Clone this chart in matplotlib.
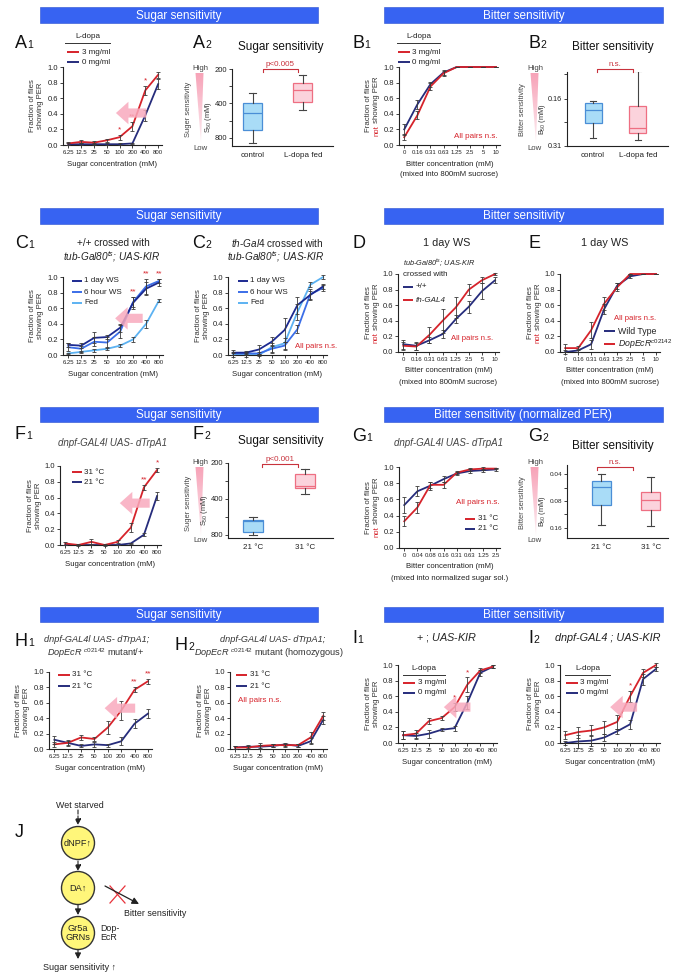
import matplotlib
matplotlib.use("Agg")
import matplotlib.pyplot as plt
import numpy as np
from matplotlib.patches import Rectangle, Polygon, Circle
from matplotlib.ticker import FixedLocator, FixedFormatter, NullFormatter
from matplotlib.colors import LinearSegmentedColormap

plt.rcParams['font.family'] = ['Liberation Sans', 'DejaVu Sans']
plt.rcParams['mathtext.fontset'] = 'custom'
plt.rcParams['mathtext.rm'] = 'Liberation Sans'
plt.rcParams['mathtext.it'] = 'Liberation Sans:italic'
plt.rcParams['mathtext.bf'] = 'Liberation Sans:bold'

# ---------------- data ----------------
sugar_conc = ["6.25", "12.5", "25", "50", "100", "200", "400", "800"]
bitter_conc = ["0", "0.16", "0.31", "0.63", "1.25", "2.5", "5", "10"]
bitter_conc_norm = ["0", "0.04", "0.08", "0.16", "0.31", "0.63", "1.25", "2.5"]

# A1: sugar PER, L-dopa fed
a1_3mg = [0.02, 0.04, 0.03, 0.06, 0.10, 0.24, 0.70, 0.90]
a1_3mg_err = [0.02, 0.02, 0.02, 0.02, 0.03, 0.06, 0.06, 0.04]
a1_0mg = [0.01, 0.01, 0.01, 0.01, 0.01, 0.02, 0.38, 0.78]
a1_0mg_err = [0.01, 0.01, 0.01, 0.01, 0.01, 0.01, 0.07, 0.06]
a1_stars = [(4, "*"), (5, "**"), (6, "*")]

# A2 / B2 / F2 / G2 box stats: [whisker low, q1, median, q3, whisker high]
a2_groups = ["control", "L-dopa fed"]
a2_control = [325, 397, 485, 682, 880]
a2_ldopa = [225, 266, 305, 389, 456]

# B1: bitter (not PER), L-dopa fed
b1_3mg = [0.10, 0.38, 0.75, 0.92, 1.0, 1.0, 1.0, 1.0]
b1_3mg_err = [0.04, 0.05, 0.04, 0.03, 0.0, 0.0, 0.0, 0.0]
b1_0mg = [0.20, 0.52, 0.78, 0.93, 1.0, 1.0, 1.0, 1.0]
b1_0mg_err = [0.07, 0.06, 0.03, 0.03, 0.0, 0.0, 0.0, 0.0]

b2_groups = ["control", "L-dopa fed"]
b2_control = [0.165, 0.169, 0.187, 0.224, 0.278]
b2_ldopa = [0.109, 0.178, 0.241, 0.259, 0.284]

# C1 / C2: starvation time
c1_1day = [0.13, 0.12, 0.22, 0.23, 0.35, 0.67, 0.85, 0.93]
c1_1day_err = [0.03, 0.03, 0.07, 0.03, 0.05, 0.08, 0.08, 0.05]
c1_6hour = [0.10, 0.08, 0.17, 0.16, 0.30, 0.68, 0.88, 0.95]
c1_6hour_err = [0.05, 0.04, 0.06, 0.07, 0.08, 0.07, 0.10, 0.03]
c1_fed = [0.02, 0.04, 0.06, 0.08, 0.12, 0.20, 0.40, 0.70]
c1_fed_err = [0.01, 0.01, 0.02, 0.02, 0.02, 0.03, 0.05, 0.02]
c1_stars = [(5, "**"), (6, "**"), (7, "**")]

c2_1day = [0.03, 0.03, 0.07, 0.17, 0.32, 0.64, 0.77, 0.88]
c2_1day_err = [0.03, 0.02, 0.06, 0.06, 0.15, 0.11, 0.05, 0.03]
c2_6hour = [0.02, 0.02, 0.02, 0.08, 0.12, 0.33, 0.78, 0.86]
c2_6hour_err = [0.02, 0.02, 0.02, 0.05, 0.05, 0.05, 0.07, 0.04]
c2_fed = [0.0, 0.0, 0.0, 0.10, 0.15, 0.55, 0.90, 1.0]
c2_fed_err = [0.02, 0.02, 0.01, 0.06, 0.07, 0.10, 0.03, 0.02]

# D / E: bitter, 1 day WS
d_wt = [0.10, 0.08, 0.15, 0.23, 0.42, 0.58, 0.78, 0.92]
d_wt_err = [0.06, 0.05, 0.04, 0.05, 0.05, 0.08, 0.10, 0.04]
d_th = [0.08, 0.07, 0.22, 0.40, 0.57, 0.80, 0.92, 1.0]
d_th_err = [0.05, 0.05, 0.10, 0.15, 0.14, 0.07, 0.04, 0.01]

e_wt = [0.0, 0.02, 0.10, 0.55, 0.85, 0.97, 1.0, 1.0]
e_wt_err = [0.02, 0.02, 0.06, 0.06, 0.04, 0.02, 0.0, 0.0]
e_dopecr = [0.05, 0.05, 0.28, 0.62, 0.83, 1.0, 1.0, 1.0]
e_dopecr_err = [0.05, 0.03, 0.10, 0.08, 0.05, 0.0, 0.0, 0.0]

# F1 / F2: dnpf > dTrpA1
f1_31 = [0.02, 0.0, 0.04, 0.0, 0.04, 0.22, 0.73, 0.95]
f1_31_err = [0.02, 0.01, 0.03, 0.01, 0.02, 0.06, 0.03, 0.03]
f1_21 = [0.0, 0.0, 0.0, 0.0, 0.0, 0.02, 0.13, 0.62]
f1_21_err = [0.0, 0.0, 0.0, 0.0, 0.0, 0.01, 0.02, 0.05]
f1_stars = [(6, "**"), (7, "*")]

f2_groups = ["21 \u00b0C", "31 \u00b0C"]
f2_21 = [566, 600, 610, 756, 800]
f2_31 = [225, 246, 312, 323, 363]

# G1 / G2: normalized bitter
g1_31 = [0.33, 0.50, 0.78, 0.78, 0.93, 0.97, 0.98, 0.98]
g1_31_err = [0.06, 0.07, 0.04, 0.04, 0.02, 0.02, 0.02, 0.01]
g1_21 = [0.53, 0.70, 0.77, 0.85, 0.92, 0.95, 0.96, 0.97]
g1_21_err = [0.10, 0.06, 0.05, 0.04, 0.02, 0.02, 0.02, 0.02]

g2_groups = ["21 \u00b0C", "31 \u00b0C"]
g2_21 = [0.040, 0.048, 0.056, 0.089, 0.148]
g2_31 = [0.043, 0.064, 0.078, 0.101, 0.152]

# H1 / H2: DopEcR background
h1_31 = [0.06, 0.08, 0.15, 0.13, 0.28, 0.50, 0.77, 0.88]
h1_31_err = [0.03, 0.03, 0.03, 0.03, 0.08, 0.12, 0.03, 0.03]
h1_21 = [0.12, 0.08, 0.04, 0.06, 0.05, 0.10, 0.33, 0.46]
h1_21_err = [0.05, 0.04, 0.02, 0.03, 0.02, 0.05, 0.06, 0.06]
h1_stars = [(6, "**"), (7, "**")]

h2_31 = [0.02, 0.02, 0.04, 0.05, 0.05, 0.05, 0.15, 0.43]
h2_31_err = [0.02, 0.02, 0.04, 0.02, 0.02, 0.02, 0.07, 0.05]
h2_21 = [0.02, 0.03, 0.03, 0.04, 0.06, 0.04, 0.10, 0.38]
h2_21_err = [0.02, 0.02, 0.02, 0.02, 0.02, 0.02, 0.04, 0.05]

# I1 / I2: L-dopa with KIR
i1_3mg = [0.10, 0.12, 0.28, 0.32, 0.46, 0.75, 0.93, 0.98]
i1_3mg_err = [0.05, 0.05, 0.04, 0.03, 0.05, 0.09, 0.03, 0.02]
i1_0mg = [0.10, 0.09, 0.12, 0.17, 0.19, 0.52, 0.90, 0.98]
i1_0mg_err = [0.05, 0.04, 0.05, 0.02, 0.03, 0.08, 0.04, 0.02]
i1_stars = [(4, "*"), (5, "*")]

i2_3mg = [0.10, 0.14, 0.16, 0.20, 0.27, 0.60, 0.90, 1.0]
i2_3mg_err = [0.05, 0.07, 0.07, 0.08, 0.09, 0.07, 0.05, 0.02]
i2_0mg = [0.0, 0.02, 0.03, 0.07, 0.15, 0.24, 0.82, 0.95]
i2_0mg_err = [0.02, 0.08, 0.07, 0.04, 0.03, 0.06, 0.07, 0.03]
i2_stars = [(5, "*")]

# ---------------- styling ----------------
RED = '#d6232b'
NAVY = '#262c7c'
WS1 = '#1c2a90'
WS6 = '#3b6ee8'
FED = '#5cb2f2'
BLUE = '#3763f2'
PINK = '#f8aabd'
BOXB_FC, BOXB_EC = '#a9dcf7', '#4a8ed6'
BOXP_FC, BOXP_EC = '#fbd3dc', '#ee6f82'
TXT = '#222222'

W, H = 675, 977
fig = plt.figure(figsize=(W / 100, H / 100), dpi=100)
ov = fig.add_axes([0, 0, 1, 1])
ov.set_xlim(0, W)
ov.set_ylim(H, 0)
ov.set_autoscale_on(False)
ov.axis('off')
R = fig.canvas.get_renderer()


def t(x, y, s, size=6, **kw):
    kw.setdefault('ha', 'center')
    kw.setdefault('va', 'center')
    kw.setdefault('color', TXT)
    return ov.text(x, y, s, fontsize=size, **kw)


def rich(x, y, parts, size, ha='center', rot=False):
    ts = []
    for s, extra in parts:
        d = dict(fontsize=size, color=TXT)
        d.update(extra)
        if rot:
            tt = ov.text(x, y, s, rotation=90, rotation_mode='anchor', ha='left', va='center', **d)
        else:
            tt = ov.text(x, y, s, ha='left', va='center', **d)
        ts.append(tt)
    ext = [(tt.get_window_extent(R).height if rot else tt.get_window_extent(R).width) for tt in ts]
    tot = sum(ext)
    if rot:
        pos = y + tot / 2 if ha == 'center' else y
    else:
        pos = x - tot / 2 if ha == 'center' else x
    for tt, w in zip(ts, ext):
        if rot:
            tt.set_y(pos)
            pos -= w
        else:
            tt.set_x(pos)
            pos += w


def banner(x0, x1, y0, y1, label):
    ov.add_patch(Rectangle((x0, y0), x1 - x0, y1 - y0, fc=BLUE, ec='#2a4fd0', lw=0.4))
    t((x0 + x1) / 2, (y0 + y1) / 2 + 0.5, label, 8.5, color='white')


def letter(x, y, L, digit=''):
    tt = ov.text(x, y, L, fontsize=13, ha='left', va='baseline', color='#111')
    if digit:
        w = tt.get_window_extent(R).width
        ov.text(x + w + 0.5, y, digit, fontsize=7.5, ha='left', va='baseline', color='#111')


def legend(x0, x1, ys, entries, size=5.8):
    for y, (lab, col, it) in zip(ys, entries):
        ov.plot([x0, x1], [y, y], color=col, lw=1.4, solid_capstyle='butt')
        ov.text(x1 + 2.5, y, lab, fontsize=size, ha='left', va='center', color=TXT,
                style='italic' if it else 'normal')


def ldopa_head(x0, x1, y):
    t((x0 + x1) / 2, y - 6, "L-dopa", 5.8)
    ov.plot([x0, x1], [y, y], color='#333', lw=0.7)


def curve(x0, x1, yt, yb, ticks, series, stars=(), arrow=None,
          xlab='Sugar concentration (mM)', xlab2=None, notlabel=False):
    ax = fig.add_axes([x0 / W, 1 - yb / H, (x1 - x0) / W, (yb - yt) / H])
    ax.patch.set_visible(False)
    xs = np.arange(len(ticks))
    top = np.zeros(len(ticks))
    for vals, errs, col in series:
        ax.plot(xs, vals, color=col, lw=1.3, clip_on=False, zorder=2)
        ax.errorbar(xs, vals, yerr=errs, fmt='none', ecolor='#3a3a3a', elinewidth=0.6,
                    capsize=1.6, capthick=0.6, clip_on=False, zorder=3)
        top = np.maximum(top, np.array(vals) + np.array(errs))
    for i, s in stars:
        ax.text(i, top[i] + 0.02, s, color=RED, fontsize=6, ha='center', va='bottom')
    if arrow is not None:
        xa, xb, ya = arrow
        ax.annotate('', xy=(xb, ya), xytext=(xa, ya), zorder=4,
                    arrowprops=dict(arrowstyle='simple,head_length=0.75,head_width=1.35,tail_width=0.55',
                                    fc=PINK, ec='none', alpha=0.85, mutation_scale=12))
    ax.set_xlim(-0.4, len(ticks) - 0.7)
    ax.set_ylim(0, 1)
    ax.set_xticks(xs)
    ax.set_xticklabels(ticks, fontsize=4.3)
    yv = np.arange(0, 1.01, 0.2)
    ax.set_yticks(yv)
    ax.set_yticklabels(["%.1f" % v for v in yv], fontsize=5.5)
    ax.tick_params(length=2, width=0.6, pad=1.5, colors='#222')
    for s in ['top', 'right']:
        ax.spines[s].set_visible(False)
    for s in ['left', 'bottom']:
        ax.spines[s].set_linewidth(0.8)
        ax.spines[s].set_color('#222')
    cx = (x0 + x1) / 2
    t(cx, yb + 19, xlab, 5.6)
    if xlab2:
        t(cx, yb + 30, xlab2, 5.6)
    cy = (yt + yb) / 2
    t(x0 - 30, cy, "Fraction of flies", 5.6, rotation=90, color='#333')
    if notlabel:
        rich(x0 - 22, cy, [("not", dict(color=RED)), (" showing PER", dict(color='#333'))], 5.6, rot=True)
    else:
        t(x0 - 22, cy, "showing PER", 5.6, rotation=90, color='#333')
    return ax


def boxes(x0, x1, yt, yb, names, data, ylim, xlim, major, labels, minor, ylab, tsize=5.5):
    ax = fig.add_axes([x0 / W, 1 - yb / H, (x1 - x0) / W, (yb - yt) / H])
    ax.patch.set_visible(False)
    stats = [dict(whislo=d[0], q1=d[1], med=d[2], q3=d[3], whishi=d[4], label=n)
             for d, n in zip(data, names)]
    b = ax.bxp(stats, positions=[1, 2], widths=0.38, patch_artist=True, showfliers=False,
               manage_ticks=False, capwidths=0.14)
    for patch, fc, ec in zip(b['boxes'], [BOXB_FC, BOXP_FC], [BOXB_EC, BOXP_EC]):
        patch.set(facecolor=fc, edgecolor=ec, lw=0.9)
    for m, ec in zip(b['medians'], [BOXB_EC, BOXP_EC]):
        m.set(color=ec, lw=0.9)
    for w in b['whiskers'] + b['caps']:
        w.set(color='#444', lw=0.8)
    ax.set_yscale('log')
    ax.set_ylim(ylim)
    ax.set_xlim(xlim)
    ax.yaxis.set_major_locator(FixedLocator(major))
    ax.yaxis.set_major_formatter(FixedFormatter(labels))
    ax.yaxis.set_minor_locator(FixedLocator(minor))
    ax.yaxis.set_minor_formatter(NullFormatter())
    ax.set_xticks([1, 2])
    ax.set_xticklabels(names, fontsize=5.8)
    ax.tick_params(axis='x', length=0, pad=4, colors='#222')
    ax.tick_params(axis='y', which='both', length=2, width=0.6, pad=1.5, labelsize=tsize, colors='#222')
    for s in ['top', 'right']:
        ax.spines[s].set_visible(False)
    for s in ['left', 'bottom']:
        ax.spines[s].set_linewidth(0.8)
        ax.spines[s].set_color('#222')
    t(x0 - 24, yb - 0.37 * (yb - yt), ylab, 5.3, rotation=90, color='#333')
    return ax


def wedge(x, yt, yb, label):
    poly = Polygon([(x - 4.5, yt + 4), (x + 3.5, yt + 4), (x + 1, yb - 3)], closed=True,
                   fc='none', ec='none')
    ov.add_patch(poly)
    cm = LinearSegmentedColormap.from_list('pk', ['#f7a3b8', '#fdeef2'])
    im = ov.imshow(np.linspace(0, 1, 64).reshape(-1, 1), cmap=cm, aspect='auto',
                   extent=(x - 5, x + 4, yb - 3, yt + 4), zorder=1)
    im.set_clip_path(poly)
    t(x, yt - 1, "High", 5.6, color='#444')
    t(x, yb + 2, "Low", 5.6, color='#444')
    t(x - 12, (yt + yb) / 2 + 2, label, 5.4, rotation=90, color='#444')


def bracket(xa, xb, y, label):
    ov.plot([xa, xa, xb, xb], [y + 3, y, y, y + 3], color='#c8323c', lw=0.8)
    t((xa + xb) / 2, y - 4.5, label, 5.8, color='#c8323c')


# ---------------- banners ----------------
banner(40, 318, 7, 23, "Sugar sensitivity")
banner(384, 663, 7, 23, "Bitter sensitivity")
banner(40, 318, 208, 224, "Sugar sensitivity")
banner(384, 663, 208, 224, "Bitter sensitivity")
banner(40, 318, 407, 422, "Sugar sensitivity")
banner(384, 663, 407, 422, "Bitter sensitivity (normalized PER)")
banner(40, 318, 607, 622, "Sugar sensitivity")
banner(384, 663, 607, 622, "Bitter sensitivity")

# ---------------- row 1 ----------------
letter(15, 48, "A", "1")
ldopa_head(65, 110, 43)
legend(67, 79, [52, 62], [("3 mg/ml", RED, False), ("0 mg/ml", NAVY, False)])
curve(63, 162, 67, 145, sugar_conc,
      [(a1_0mg, a1_0mg_err, NAVY), (a1_3mg, a1_3mg_err, RED)],
      stars=a1_stars, arrow=(6.3, 3.5, 0.41))

letter(193, 48, "A", "2")
t(281, 47, "Sugar sensitivity", 8.5, color='#111')
wedge(200, 69, 146, "Suger sensitivity")
boxes(232, 333, 69, 146, a2_groups, [a2_control, a2_ldopa], (940, 200), (0.58, 2.6),
      [200, 400, 800], ["200", "400", "800"], [283, 566], "S$_{50}$ (mM)")
bracket(263, 298, 69, "p<0.005")

letter(352, 48, "B", "1")
ldopa_head(397, 440, 43)
legend(398, 410, [52, 62], [("3 mg/ml", RED, False), ("0 mg/ml", NAVY, False)])
curve(399, 500, 67, 145, bitter_conc,
      [(b1_0mg, b1_0mg_err, NAVY), (b1_3mg, b1_3mg_err, RED)],
      xlab='Bitter concentration (mM)', xlab2='(mixed into 800mM sucrose)', notlabel=True)
t(476, 136, "All pairs n.s.", 5.8, color=RED)

letter(528, 48, "B", "2")
t(613, 47, "Bitter sensitivity", 8.5, color='#111')
wedge(535, 69, 146, "Bitter sensitivity")
boxes(567, 668, 72, 146, b2_groups, [b2_control, b2_ldopa], (0.31, 0.11), (0.42, 2.67),
      [0.16, 0.31], ["0.16", "0.31"], [0.113, 0.22], "B$_{50}$ (mM)", tsize=5.2)
bracket(597, 633, 69, "n.s.")

# ---------------- row 2 ----------------
letter(15, 248, "C", "1")
t(113, 243, "+/+ crossed with", 7.2)
t(112, 257, r"tub-Gal80$^{\mathit{ts}}$; UAS-KIR", 7.2, style='italic')
legend(72, 82, [281, 292, 303], [("1 day WS", WS1, False), ("6 hour WS", WS6, False), ("Fed", FED, False)])
curve(63, 163, 277, 355, sugar_conc,
      [(c1_fed, c1_fed_err, FED), (c1_6hour, c1_6hour_err, WS6), (c1_1day, c1_1day_err, WS1)],
      stars=c1_stars, arrow=(5.95, 3.4, 0.47))

letter(192, 248, "C", "2")
t(277, 243, r"$\mathit{th}$-$\mathit{Gal4}$ crossed with", 7.2)
t(276, 257, r"tub-Gal80$^{\mathit{ts}}$; UAS-KIR", 7.2, style='italic')
legend(238, 248, [281, 292, 303], [("1 day WS", WS1, False), ("6 hour WS", WS6, False), ("Fed", FED, False)])
curve(228, 327, 277, 355, sugar_conc,
      [(c2_fed, c2_fed_err, FED), (c2_6hour, c2_6hour_err, WS6), (c2_1day, c2_1day_err, WS1)])
t(316, 346, "All pairs n.s.", 5.6, color=RED)

letter(352, 248, "D")
t(447, 243, "1 day WS", 7.8)
t(403, 263, r"tub-Gal80$^{\mathit{ts}}$; UAS-KIR", 5.3, style='italic', ha='left')
t(403, 274, "crossed with", 5.8, ha='left')
legend(403, 413, [287, 300], [("+/+", NAVY, False), ("th-GAL4", RED, True)])
curve(398, 499, 274, 352, bitter_conc,
      [(d_wt, d_wt_err, NAVY), (d_th, d_th_err, RED)],
      xlab='Bitter concentration (mM)', xlab2='(mixed into 800mM sucrose)', notlabel=True)
t(472, 339, "All pairs n.s.", 5.6, color=RED)

letter(528, 248, "E")
t(605, 243, "1 day WS", 7.8)
curve(560, 660, 274, 352, bitter_conc,
      [(e_wt, e_wt_err, NAVY), (e_dopecr, e_dopecr_err, RED)],
      xlab='Bitter concentration (mM)', xlab2='(mixed into 800mM sucrose)', notlabel=True)
t(635, 318, "All pairs n.s.", 5.6, color=RED)
legend(604, 615, [331, 344], [("Wild Type", NAVY, False), (r"DopEcR$^{\mathit{c02142}}$", RED, True)], size=6.3)

# ---------------- row 3 ----------------
letter(15, 439, "F", "1")
t(113, 443, "dnpf-GAL4l UAS- dTrpA1", 7, style='italic', color='#444')
legend(72, 82, [472, 482], [("31 \u00b0C", RED, False), ("21 \u00b0C", NAVY, False)])
curve(60, 161, 466, 545, sugar_conc,
      [(f1_21, f1_21_err, NAVY), (f1_31, f1_31_err, RED)],
      stars=f1_stars, arrow=(6.65, 3.95, 0.53))

letter(193, 439, "F", "2")
t(281, 441, "Sugar sensitivity", 8.5, color='#111')
wedge(200, 463, 539, "Suger sensitivity")
boxes(228, 333, 463, 538, f2_groups, [f2_21, f2_31], (848, 200), (0.52, 2.54),
      [200, 400, 800], ["200", "400", "800"], [283, 566], "S$_{50}$ (mM)")
bracket(262, 298, 464, "p<0.001")

letter(352, 441, "G", "1")
t(449, 443, "dnpf-GAL4l UAS- dTrpA1", 7, style='italic', color='#444')
curve(399, 500, 467, 548, bitter_conc_norm,
      [(g1_21, g1_21_err, NAVY), (g1_31, g1_31_err, RED)],
      xlab='Bitter concentration (mM)', xlab2='(mixed into normalized sugar sol.)', notlabel=True)
t(478, 503, "All pairs n.s.", 5.8, color=RED)
legend(465, 475, [519, 529], [("31 \u00b0C", RED, False), ("21 \u00b0C", NAVY, False)])

letter(528, 441, "G", "2")
t(613, 446, "Bitter sensitivity", 8.5, color='#111')
wedge(535, 463, 539, "Bitter sensitivity")
boxes(567, 668, 465, 538, g2_groups, [g2_21, g2_31], (0.206, 0.032), (0.3, 2.35),
      [0.04, 0.08, 0.16], ["0.04", "0.08", "0.16"], [0.057, 0.113], "B$_{50}$ (mM)", tsize=4.6)
bracket(597, 633, 467, "n.s.")

# ---------------- row 4 ----------------
letter(15, 646, "H", "1")
t(97, 640, "dnpf-GAL4l UAS- dTrpA1;", 6.6, style='italic', color='#333')
t(96, 653, r"$\mathit{DopEcR}^{\ \mathit{c02142}}$ mutant/+", 6.6, color='#333')
legend(58, 70, [675, 686], [("31 \u00b0C", RED, False), ("21 \u00b0C", NAVY, False)])
curve(49, 152, 672, 749, sugar_conc,
      [(h1_21, h1_21_err, NAVY), (h1_31, h1_31_err, RED)],
      stars=h1_stars, arrow=(6.25, 3.55, 0.53))

letter(175, 650, "H", "2")
t(273, 640, "dnpf-GAL4l UAS- dTrpA1;", 6.6, style='italic', color='#333')
t(269, 653, r"$\mathit{DopEcR}^{\ \mathit{c02142}}$ mutant (homozygous)", 6.6, color='#333')
legend(236, 247, [675, 686], [("31 \u00b0C", RED, False), ("21 \u00b0C", NAVY, False)])
curve(230, 327, 672, 749, sugar_conc,
      [(h2_21, h2_21_err, NAVY), (h2_31, h2_31_err, RED)])
t(260, 700, "All pairs n.s.", 5.8, color=RED)

letter(352, 643, "I", "1")
t(447, 638, r"+ ; $\mathit{UAS}$-$\mathit{KIR}$", 7.8)
ldopa_head(403, 445, 675)
legend(403, 415, [683, 693], [("3 mg/ml", RED, False), ("0 mg/ml", NAVY, False)])
curve(398, 497, 665, 743, sugar_conc,
      [(i1_0mg, i1_0mg_err, NAVY), (i1_3mg, i1_3mg_err, RED)],
      stars=i1_stars, arrow=(5.45, 2.95, 0.46))

letter(528, 643, "I", "2")
t(608, 638, "dnpf-GAL4 ; UAS-KIR", 7.8, style='italic')
ldopa_head(565, 610, 675)
legend(566, 578, [683, 693], [("3 mg/ml", RED, False), ("0 mg/ml", NAVY, False)])
curve(560, 660, 665, 743, sugar_conc,
      [(i2_0mg, i2_0mg_err, NAVY), (i2_3mg, i2_3mg_err, RED)],
      stars=i2_stars, arrow=(5.75, 3.25, 0.46))

# ---------------- J: model ----------------
letter(15, 837, "J")
YEL = '#fff67a'
t(80, 806, "Wet starved", 6.4)
for (ya, yb, ls) in [(810, 825, '--'), (861, 871, '--'), (905, 915, '-'), (950, 959, '-')]:
    ov.annotate('', xy=(78, yb), xytext=(78, ya),
                arrowprops=dict(arrowstyle='-|>,head_length=0.35,head_width=0.18', color='#222',
                                lw=0.8, linestyle=ls, shrinkA=0, shrinkB=0))
for cy, lab in [(843, "dNPF\u2191"), (888, "DA\u2191"), (933, "Gr5a\nGRNs")]:
    ov.add_patch(Circle((78, cy), 16.5, fc=YEL, ec='#333', lw=1.0))
    t(78, cy, lab, 6.6, linespacing=1.0)
t(100, 933, "Dop-\nEcR", 6.4, ha='left', linespacing=1.1)
t(80, 967, "Sugar sensitivity \u2191", 6.5)
ov.annotate('', xy=(139, 904), xytext=(105, 886),
            arrowprops=dict(arrowstyle='-|>,head_length=0.4,head_width=0.2', color='#222', lw=0.9,
                            shrinkA=0, shrinkB=0))
ov.plot([110, 125], [886, 903], color='#e8323a', lw=0.9)
ov.plot([110, 125], [903, 886], color='#e8323a', lw=0.9)
t(155, 913, "Bitter sensitivity", 6.4)

fig.savefig("out.png", dpi=100)
